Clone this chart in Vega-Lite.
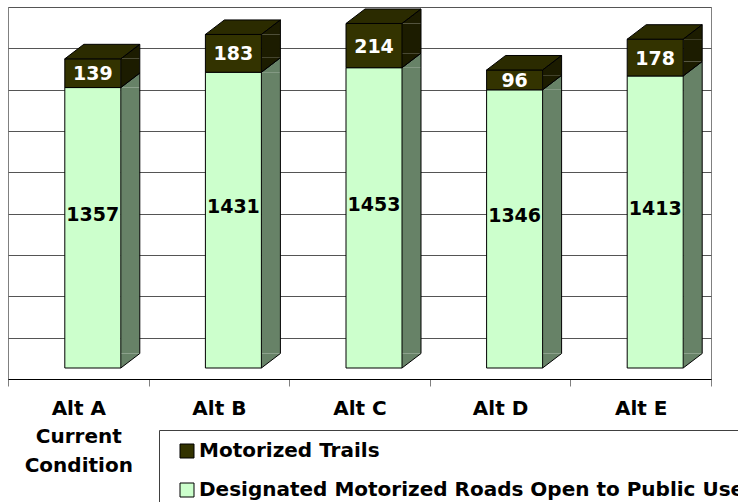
{
  "$schema": "https://vega.github.io/schema/vega-lite/v6.json",
  "width": 703,
  "height": 372,
  "autosize": {"type": "none"},
  "padding": {"left": 8, "top": 7, "right": 27, "bottom": 123},
  "background": "white",
  "config": {
    "font": "DejaVu Sans",
    "view": {"stroke": "#808080", "strokeWidth": 1},
    "axisY": {"grid": true, "gridColor": "#555555", "gridWidth": 1, "labels": false, "ticks": false, "domain": false, "tickCount": 9, "title": null}
  },
  "data": {
    "values": [
      {"cat": "Alt A Current Condition", "series": "Designated Motorized Roads Open to Public Use", "value": 1357},
      {"cat": "Alt A Current Condition", "series": "Motorized Trails", "value": 139},
      {"cat": "Alt B", "series": "Designated Motorized Roads Open to Public Use", "value": 1431},
      {"cat": "Alt B", "series": "Motorized Trails", "value": 183},
      {"cat": "Alt C", "series": "Designated Motorized Roads Open to Public Use", "value": 1453},
      {"cat": "Alt C", "series": "Motorized Trails", "value": 214},
      {"cat": "Alt D", "series": "Designated Motorized Roads Open to Public Use", "value": 1346},
      {"cat": "Alt D", "series": "Motorized Trails", "value": 96},
      {"cat": "Alt E", "series": "Designated Motorized Roads Open to Public Use", "value": 1413},
      {"cat": "Alt E", "series": "Motorized Trails", "value": 178}
    ]
  },
  "transform": [
    {"stack": "value", "groupby": ["cat"], "sort": [{"field": "series", "order": "ascending"}], "as": ["v0", "v1"]}
  ],
  "encoding": {
    "x": {
      "field": "cat",
      "type": "nominal",
      "title": null,
      "scale": {"paddingInner": 0, "paddingOuter": 0},
      "axis": {
        "labelAngle": 0,
        "labelFont": "DejaVu Sans",
        "labelFontSize": 20,
        "labelFontWeight": "bold",
        "labelColor": "black",
        "labelPadding": 12,
        "labelBaseline": "top",
        "labelLineHeight": 28.5,
        "labelLimit": 400,
        "labelExpr": "datum.value == 'Alt A Current Condition' ? ['Alt A', 'Current', 'Condition'] : datum.label",
        "tickBand": "extent",
        "tickSize": 7,
        "tickColor": "#808080",
        "domainColor": "black",
        "domainWidth": 1,
        "grid": false
      }
    }
  },
  "layer": [
    {
      "mark": {"type": "bar", "width": 19, "xOffset": 52, "yOffset": -11, "y2Offset": -25.5, "strokeWidth": 0},
      "encoding": {
        "y": {"field": "v1", "type": "quantitative", "stack": null, "title": null, "scale": {"domain": [0, 1800], "nice": false}},
        "y2": {"field": "v0"},
        "fill": {"condition": {"test": "datum.series === 'Motorized Trails'", "value": "#1c1c00"}, "value": "#678267"}
      }
    },
    {
      "mark": {"type": "point", "shape": "M-1,0.763L1,-0.763L1,0.763Z", "size": 361, "filled": true, "opacity": 1, "strokeWidth": 0, "xOffset": 52, "yOffset": -18.25},
      "encoding": {
        "y": {"field": "v1", "type": "quantitative", "stack": null, "title": null, "scale": {"domain": [0, 1800], "nice": false}},
        "fill": {"condition": {"test": "datum.series === 'Motorized Trails'", "value": "#1c1c00"}, "value": "#678267"}
      }
    },
    {
      "mark": {"type": "point", "shape": "M-1,-0.763L-1,0.763L1,-0.763Z", "size": 361, "filled": true, "opacity": 1, "strokeWidth": 0, "xOffset": 52, "yOffset": -18.25},
      "encoding": {
        "y": {"field": "v0", "type": "quantitative", "stack": null, "title": null, "scale": {"domain": [0, 1800], "nice": false}},
        "fill": {"condition": {"test": "datum.series === 'Motorized Trails'", "value": "#1c1c00"}, "value": "#678267"}
      }
    },
    {
      "mark": {"type": "bar", "width": 56, "xOffset": 14.5, "yOffset": -11, "y2Offset": -11, "stroke": "black", "strokeWidth": 1},
      "encoding": {
        "y": {"field": "v1", "type": "quantitative", "stack": null, "title": null, "scale": {"domain": [0, 1800], "nice": false}},
        "y2": {"field": "v0"},
        "fill": {
          "field": "series",
          "type": "nominal",
          "scale": {"domain": ["Motorized Trails", "Designated Motorized Roads Open to Public Use"], "range": ["#333300", "#ccffcc"]},
          "legend": {
            "orient": "none",
            "legendX": 151,
            "legendY": 423,
            "title": null,
            "fillColor": "white",
            "strokeColor": "#404040",
            "padding": 11,
            "symbolType": "square",
            "symbolSize": 196,
            "symbolStrokeColor": "black",
            "symbolStrokeWidth": 1,
            "symbolOffset": 7,
            "labelOffset": 2,
            "labelFont": "DejaVu Sans",
            "labelFontSize": 20,
            "labelFontWeight": "bold",
            "labelColor": "black",
            "labelLimit": 1000,
            "rowPadding": 19
          }
        }
      }
    },
    {
      "transform": [{"filter": "datum.series === 'Motorized Trails'"}],
      "mark": {"type": "point", "shape": "M-1,0.1933L0.4933,0.1933L1,-0.1933L-0.4933,-0.1933Z", "size": 5625, "filled": true, "opacity": 1, "fill": "#2b2b00", "stroke": "black", "strokeWidth": 1, "xOffset": 24, "yOffset": -18.25},
      "encoding": {
        "y": {"field": "v1", "type": "quantitative", "stack": null, "title": null, "scale": {"domain": [0, 1800], "nice": false}}
      }
    },
    {
      "mark": {"type": "rule", "color": "black", "strokeWidth": 1, "xOffset": 61.5, "yOffset": -25.5, "y2Offset": -25.5},
      "encoding": {
        "y": {"field": "v1", "type": "quantitative", "stack": null, "title": null, "scale": {"domain": [0, 1800], "nice": false}},
        "y2": {"field": "v0"}
      }
    },
    {
      "mark": {"type": "point", "shape": "M-1,0.763L1,-0.763", "size": 361, "filled": false, "opacity": 1, "stroke": "black", "strokeWidth": 1, "xOffset": 52, "yOffset": -18.25},
      "encoding": {
        "y": {"field": "v1", "type": "quantitative", "stack": null, "title": null, "scale": {"domain": [0, 1800], "nice": false}}
      }
    },
    {
      "mark": {"type": "point", "shape": "M-1,0.763L1,-0.763", "size": 361, "filled": false, "opacity": 1, "stroke": "black", "strokeWidth": 1, "xOffset": 52, "yOffset": -18.25},
      "encoding": {
        "y": {"field": "v0", "type": "quantitative", "stack": null, "title": null, "scale": {"domain": [0, 1800], "nice": false}}
      }
    },
    {
      "mark": {"type": "text", "font": "DejaVu Sans", "fontSize": 19, "fontWeight": "bold", "baseline": "middle", "align": "center", "xOffset": 14.5, "yOffset": -24, "fill": "black"},
      "encoding": {
        "y": {"field": "value", "type": "quantitative", "stack": "zero", "bandPosition": 0.5, "title": null, "scale": {"domain": [0, 1800], "nice": false}},
        "detail": {"field": "series"},
        "order": {"field": "series", "type": "ordinal", "sort": "ascending"},
        "text": {"condition": {"test": "datum.series !== 'Motorized Trails'", "field": "value", "type": "quantitative", "format": "d"}, "value": ""}
      }
    },
    {
      "mark": {"type": "text", "font": "DejaVu Sans", "fontSize": 19, "fontWeight": "bold", "baseline": "middle", "align": "center", "xOffset": 14.5, "yOffset": -10, "fill": "white"},
      "encoding": {
        "y": {"field": "value", "type": "quantitative", "stack": "zero", "bandPosition": 0.5, "title": null, "scale": {"domain": [0, 1800], "nice": false}},
        "detail": {"field": "series"},
        "order": {"field": "series", "type": "ordinal", "sort": "ascending"},
        "text": {"condition": {"test": "datum.series === 'Motorized Trails'", "field": "value", "type": "quantitative", "format": "d"}, "value": ""}
      }
    }
  ]
}
